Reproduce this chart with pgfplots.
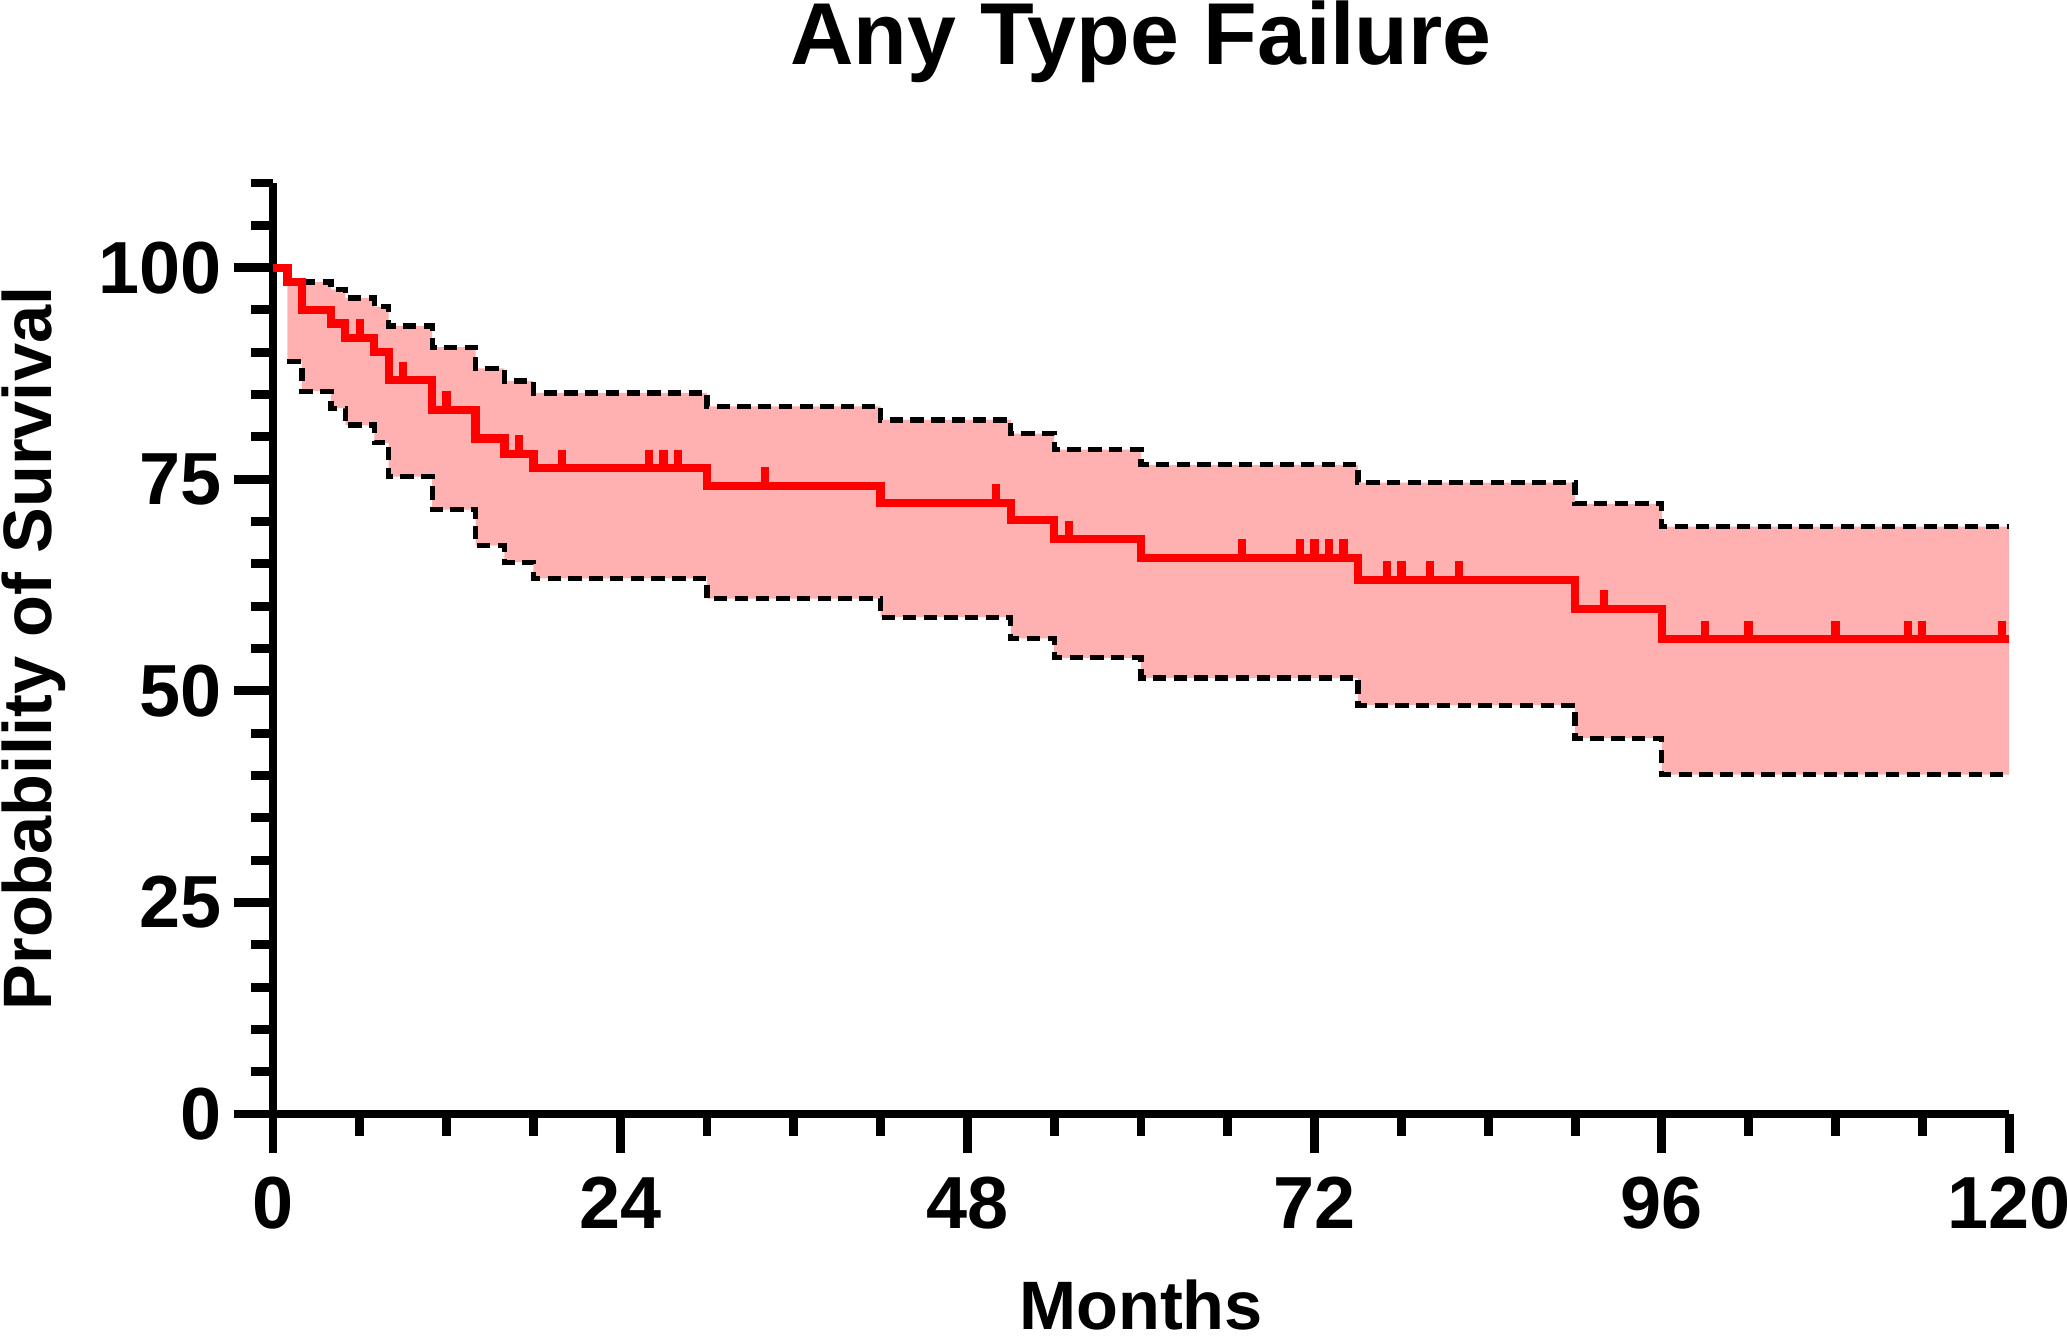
\documentclass[border=0pt]{standalone}
\usepackage{fontspec}
\setmainfont{Liberation Sans}
\usepackage{pgfplots}
\usepackage{pgfplotstable}
\pgfplotsset{compat=1.18}
\usepgfplotslibrary{fillbetween}

\definecolor{kmred}{RGB}{255,0,0}
\definecolor{kmband}{RGB}{255,176,176}

% Kaplan-Meier estimate (months, % surviving)
\pgfplotstableread{
t   S
0   100
1   98.3
2   95.0
4   93.4
5   91.7
7   90.0
8   86.7
11  83.2
14  79.8
16  78.0
18  76.3
30  74.2
42  72.2
51  70.2
54  67.9
60  65.7
75  63.1
90  59.7
96  56.1
120 56.1
}\kmest

% upper 95% CI (the part from 1 to 2 lies under the curve)
\pgfplotstableread{
t   S
1   98.3
2   98.3
4   97.4
5   96.4
7   95.4
8   93.1
11  90.6
14  88.1
16  86.6
18  85.2
30  83.6
42  82.0
51  80.4
54  78.5
60  76.7
75  74.6
90  72.1
96  69.4
120 69.4
}\kmup

% lower 95% CI
\pgfplotstableread{
t   S
1   88.9
2   85.4
4   83.4
5   81.4
7   79.3
8   75.3
11  71.4
14  67.2
16  65.2
18  63.3
30  60.9
42  58.7
51  56.2
54  53.9
60  51.5
75  48.3
90  44.4
96  40.1
120 40.1
}\kmlo

% censored observations
\pgfplotstableread{
t     S
6     91.7
9     86.7
12    83.2
17    78.0
20    76.3
26    76.3
27    76.3
28    76.3
34    74.2
50    72.2
55    67.9
67    65.7
71    65.7
72    65.7
73    65.7
74    65.7
77    63.1
78    63.1
80    63.1
82    63.1
92    59.7
99    56.1
102   56.1
108   56.1
113   56.1
114   56.1
119.5 56.1
}\kmcens

\begin{document}
\begin{tikzpicture}
\begin{axis}[
  scale only axis,
  width=17.36cm, height=9.31cm,
  xmin=0, xmax=120,
  ymin=0, ymax=110,
  axis lines=left,
  axis line style={line width=2.55pt, -},
  xtick={0,24,...,120},
  minor xtick={6,12,...,114},
  ytick={0,25,...,100},
  minor ytick={5,10,...,110},
  tick align=outside,
  major tick length=0.39cm,
  minor tick length=0.22cm,
  tick style={line width=2.55pt, black},
  ticklabel style={font=\fontsize{21}{25}\selectfont\bfseries},
  xticklabel style={yshift=-0.12cm},
  /pgf/number format/assume math mode=true,
  clip=false,
]

% confidence band
\addplot[const plot, draw=none, name path=up, forget plot] table[x=t, y=S] {\kmup};
\addplot[const plot, draw=none, name path=lo, forget plot] table[x=t, y=S] {\kmlo};
\addplot[kmband, draw=none] fill between[of=up and lo];

% CI bounds, dashed
\addplot[const plot, black, line width=1.5pt, dash pattern=on 3.8pt off 2.1pt]
  table[x=t, y=S, skip coords between index={0}{1}] {\kmup};
\addplot[const plot, black, line width=1.5pt, dash pattern=on 3.8pt off 2.1pt]
  table[x=t, y=S] {\kmlo};

% survival curve
\addplot[const plot, kmred, line width=2.35pt] table[x=t, y=S] {\kmest};

% censor ticks, pointing up from the curve
\addplot[only marks, mark=|, mark size=2.65pt, kmred,
  mark options={line width=2.35pt, yshift=2.65pt}] table[x=t, y=S] {\kmcens};

\end{axis}

\node[font=\fontsize{25}{30}\selectfont\bfseries, anchor=base, inner sep=0pt]
  at (8.68cm,10.49cm) {Any Type Failure};
\node[font=\fontsize{19.5}{24}\selectfont\bfseries, anchor=base, inner sep=0pt]
  at (8.68cm,-2.15cm) {Months};
\node[font=\fontsize{19.5}{24}\selectfont\bfseries, rotate=90, anchor=north, inner sep=0pt]
  at (-2.72cm,4.655cm) {Probability of Survival};

\pgfresetboundingbox
\path[use as bounding box] (-2.73cm,-2.27cm) rectangle (17.94cm,11.14cm);
\end{tikzpicture}
\end{document}
